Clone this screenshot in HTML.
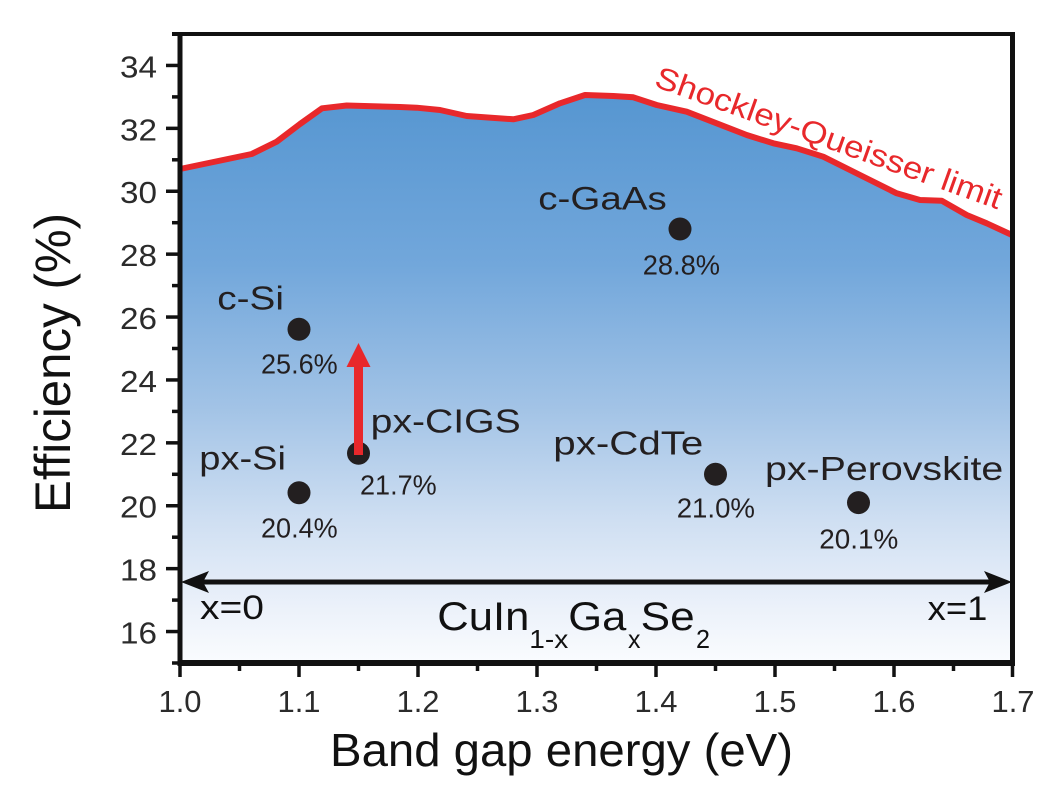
<!DOCTYPE html>
<html>
<head>
<meta charset="utf-8">
<style>
  html,body{margin:0;padding:0;background:#fff;}
  svg{display:block;}
  text{font-family:"Liberation Sans",Arial,sans-serif;}
</style>
</head>
<body>
<svg width="1048" height="800" viewBox="0 0 1048 800" xmlns="http://www.w3.org/2000/svg">
  <defs>
    <linearGradient id="g" gradientUnits="userSpaceOnUse" x1="0" y1="95" x2="0" y2="663">
      <stop offset="0" stop-color="#5696d1"/>
      <stop offset="0.3" stop-color="#72a7db"/>
      <stop offset="0.55" stop-color="#a2c3e6"/>
      <stop offset="0.75" stop-color="#cfdff2"/>
      <stop offset="0.9" stop-color="#ebf1fa"/>
      <stop offset="1" stop-color="#fafcfe"/>
    </linearGradient>
  </defs>
  <rect x="0" y="0" width="1048" height="800" fill="#fff"/>

  <polygon fill="url(#g)" points="180,169 251.7,154 276.7,141.7 300,124 322,108.3 346.7,105.5 400,107 416.7,107.7 440,110 466.7,116 513.3,119.3 533.3,115 560,103.3 585,95 613.3,96 633.3,97.3 656.7,105 686.7,111.7 746.7,135 773.3,143.3 796.7,148.3 823.3,156.7 860,175 896.7,193.3 920,200 941.7,200.7 966.7,215 986.7,223.3 1012,235 1012,663 180,663"/>
  <polyline fill="none" stroke="#e8282b" stroke-width="6" stroke-linejoin="round" points="180,169 251.7,154 276.7,141.7 300,124 322,108.3 346.7,105.5 400,107 416.7,107.7 440,110 466.7,116 513.3,119.3 533.3,115 560,103.3 585,95 613.3,96 633.3,97.3 656.7,105 686.7,111.7 746.7,135 773.3,143.3 796.7,148.3 823.3,156.7 860,175 896.7,193.3 920,200 941.7,200.7 966.7,215 986.7,223.3 1012,235"/>

  <text transform="translate(653,86) rotate(19.7)" font-size="31" fill="#e8282b" textLength="366" lengthAdjust="spacingAndGlyphs">Shockley-Queisser limit</text>

  <line x1="172" y1="34" x2="1015" y2="34" stroke="#111" stroke-width="4"/>
  <line x1="180" y1="32" x2="180" y2="666" stroke="#111" stroke-width="5"/>
  <line x1="1012.5" y1="32" x2="1012.5" y2="666" stroke="#111" stroke-width="5"/>
  <line x1="177.5" y1="663" x2="1015" y2="663" stroke="#111" stroke-width="6"/>

  <g stroke="#111" stroke-width="3.5">
    <line x1="172" y1="663" x2="180" y2="663"/>
    <line x1="166" y1="631.55" x2="180" y2="631.55"/>
    <line x1="172" y1="600.1" x2="180" y2="600.1"/>
    <line x1="166" y1="568.65" x2="180" y2="568.65"/>
    <line x1="172" y1="537.2" x2="180" y2="537.2"/>
    <line x1="166" y1="505.75" x2="180" y2="505.75"/>
    <line x1="172" y1="474.3" x2="180" y2="474.3"/>
    <line x1="166" y1="442.85" x2="180" y2="442.85"/>
    <line x1="172" y1="411.4" x2="180" y2="411.4"/>
    <line x1="166" y1="379.95" x2="180" y2="379.95"/>
    <line x1="172" y1="348.5" x2="180" y2="348.5"/>
    <line x1="166" y1="317.05" x2="180" y2="317.05"/>
    <line x1="172" y1="285.6" x2="180" y2="285.6"/>
    <line x1="166" y1="254.15" x2="180" y2="254.15"/>
    <line x1="172" y1="222.7" x2="180" y2="222.7"/>
    <line x1="166" y1="191.25" x2="180" y2="191.25"/>
    <line x1="172" y1="159.8" x2="180" y2="159.8"/>
    <line x1="166" y1="128.35" x2="180" y2="128.35"/>
    <line x1="172" y1="96.9" x2="180" y2="96.9"/>
    <line x1="166" y1="65.45" x2="180" y2="65.45"/>
  </g>
  <g stroke="#111" stroke-width="3.5">
    <line x1="180" y1="663" x2="180" y2="677"/>
    <line x1="239.5" y1="663" x2="239.5" y2="671"/>
    <line x1="299" y1="663" x2="299" y2="677"/>
    <line x1="358.5" y1="663" x2="358.5" y2="671"/>
    <line x1="418" y1="663" x2="418" y2="677"/>
    <line x1="477.5" y1="663" x2="477.5" y2="671"/>
    <line x1="537" y1="663" x2="537" y2="677"/>
    <line x1="596.5" y1="663" x2="596.5" y2="671"/>
    <line x1="656" y1="663" x2="656" y2="677"/>
    <line x1="715.5" y1="663" x2="715.5" y2="671"/>
    <line x1="775" y1="663" x2="775" y2="677"/>
    <line x1="834.5" y1="663" x2="834.5" y2="671"/>
    <line x1="894" y1="663" x2="894" y2="677"/>
    <line x1="953.5" y1="663" x2="953.5" y2="671"/>
    <line x1="1012.5" y1="663" x2="1012.5" y2="677"/>
  </g>

  <g font-size="31" fill="#2b2b2b" text-anchor="end">
    <text x="157" y="643.5" textLength="37" lengthAdjust="spacingAndGlyphs">16</text>
    <text x="157" y="580.6" textLength="37" lengthAdjust="spacingAndGlyphs">18</text>
    <text x="157" y="517.7" textLength="37" lengthAdjust="spacingAndGlyphs">20</text>
    <text x="157" y="454.8" textLength="37" lengthAdjust="spacingAndGlyphs">22</text>
    <text x="157" y="391.9" textLength="37" lengthAdjust="spacingAndGlyphs">24</text>
    <text x="157" y="329" textLength="37" lengthAdjust="spacingAndGlyphs">26</text>
    <text x="157" y="266.1" textLength="37" lengthAdjust="spacingAndGlyphs">28</text>
    <text x="157" y="203.2" textLength="37" lengthAdjust="spacingAndGlyphs">30</text>
    <text x="157" y="140.3" textLength="37" lengthAdjust="spacingAndGlyphs">32</text>
    <text x="157" y="77.4" textLength="37" lengthAdjust="spacingAndGlyphs">34</text>
  </g>
  <g font-size="31" fill="#2b2b2b" text-anchor="middle">
    <text x="180" y="712" textLength="43" lengthAdjust="spacingAndGlyphs">1.0</text>
    <text x="299" y="712" textLength="43" lengthAdjust="spacingAndGlyphs">1.1</text>
    <text x="418" y="712" textLength="43" lengthAdjust="spacingAndGlyphs">1.2</text>
    <text x="537" y="712" textLength="43" lengthAdjust="spacingAndGlyphs">1.3</text>
    <text x="656" y="712" textLength="43" lengthAdjust="spacingAndGlyphs">1.4</text>
    <text x="775" y="712" textLength="43" lengthAdjust="spacingAndGlyphs">1.5</text>
    <text x="894" y="712" textLength="43" lengthAdjust="spacingAndGlyphs">1.6</text>
    <text x="1013" y="712" textLength="43" lengthAdjust="spacingAndGlyphs">1.7</text>
  </g>

  <text x="330" y="766" font-size="46" fill="#111" textLength="463" lengthAdjust="spacingAndGlyphs">Band gap energy (eV)</text>
  <text transform="translate(70,513) rotate(-90)" font-size="50" fill="#111" textLength="300" lengthAdjust="spacingAndGlyphs">Efficiency (%)</text>

  <line x1="200" y1="582" x2="995" y2="582" stroke="#111" stroke-width="5"/>
  <polygon fill="#111" points="181,582 209,571 203,582 209,593"/>
  <polygon fill="#111" points="1012,582 984,571 990,582 984,593"/>
  <text x="200" y="619" font-size="34" fill="#111" textLength="64" lengthAdjust="spacingAndGlyphs">x=0</text>
  <text x="927.7" y="620" font-size="34" fill="#111" textLength="59.6" lengthAdjust="spacingAndGlyphs">x=1</text>

  <g fill="#111">
    <text x="437.3" y="630" font-size="40" textLength="92" lengthAdjust="spacingAndGlyphs">CuIn</text>
    <text x="529.3" y="648" font-size="26" textLength="39" lengthAdjust="spacingAndGlyphs">1-x</text>
    <text x="568.3" y="630" font-size="40" textLength="58" lengthAdjust="spacingAndGlyphs">Ga</text>
    <text x="628" y="648" font-size="26" textLength="12.5" lengthAdjust="spacingAndGlyphs">x</text>
    <text x="640.7" y="630" font-size="40" textLength="54" lengthAdjust="spacingAndGlyphs">Se</text>
    <text x="696" y="648" font-size="26" textLength="14" lengthAdjust="spacingAndGlyphs">2</text>
  </g>

  <g fill="#231f20">
    <circle cx="299" cy="329.3" r="11.5"/>
    <circle cx="299" cy="492.7" r="11.5"/>
    <circle cx="358.5" cy="453.3" r="11.5"/>
    <circle cx="680" cy="229" r="11.5"/>
    <circle cx="715.5" cy="474.3" r="11.5"/>
    <circle cx="858.5" cy="502.6" r="11.5"/>
  </g>

  <rect x="354" y="362" width="9" height="93" fill="#e8282b"/>
  <polygon fill="#e8282b" points="346.5,367 370.5,367 358.5,343"/>

  <g fill="#231f20">
    <text x="217.3" y="309.3" font-size="33" textLength="66.7" lengthAdjust="spacingAndGlyphs">c-Si</text>
    <text x="261" y="373.3" font-size="28" textLength="76.7" lengthAdjust="spacingAndGlyphs">25.6%</text>
    <text x="370.7" y="432.7" font-size="33" textLength="150" lengthAdjust="spacingAndGlyphs">px-CIGS</text>
    <text x="360" y="494.3" font-size="28" textLength="76.7" lengthAdjust="spacingAndGlyphs">21.7%</text>
    <text x="199.3" y="469.3" font-size="33" textLength="86.7" lengthAdjust="spacingAndGlyphs">px-Si</text>
    <text x="261" y="537.7" font-size="28" textLength="76.7" lengthAdjust="spacingAndGlyphs">20.4%</text>
    <text x="538.3" y="209.3" font-size="32" textLength="128.4" lengthAdjust="spacingAndGlyphs">c-GaAs</text>
    <text x="642.7" y="274.3" font-size="28" textLength="77.3" lengthAdjust="spacingAndGlyphs">28.8%</text>
    <text x="553.3" y="454.3" font-size="33" textLength="150" lengthAdjust="spacingAndGlyphs">px-CdTe</text>
    <text x="676.7" y="517.3" font-size="28" textLength="78.3" lengthAdjust="spacingAndGlyphs">21.0%</text>
    <text x="765" y="480" font-size="33" textLength="238.3" lengthAdjust="spacingAndGlyphs">px-Perovskite</text>
    <text x="819.3" y="548.3" font-size="28" textLength="79" lengthAdjust="spacingAndGlyphs">20.1%</text>
  </g>
</svg>
</body>
</html>
